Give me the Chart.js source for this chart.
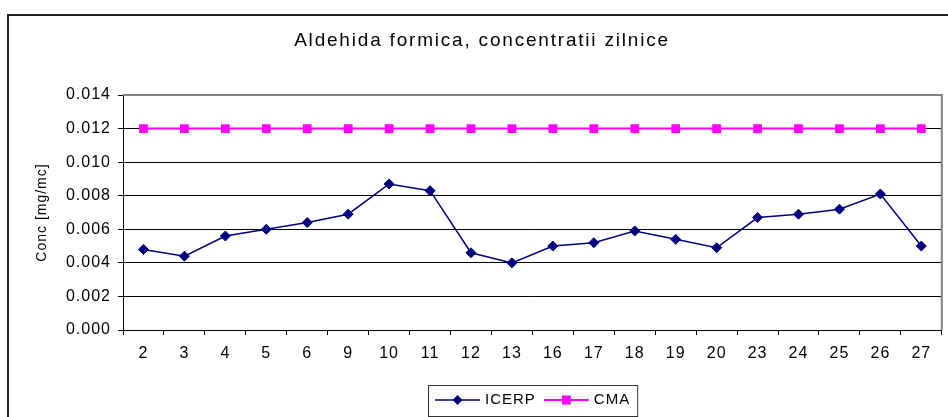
<!DOCTYPE html>
<html>
<head>
<meta charset="utf-8">
<title>Aldehida formica</title>
<script src="https://cdn.jsdelivr.net/npm/chart.js"></script>
<style>
  body { margin: 0; background: #fff; }
  #grafic { display: block; }
</style>
</head>
<body>
<canvas id="grafic" width="948" height="417"></canvas>
<script>
// datele graficului
const zile = ["2", "3", "4", "5", "6", "9", "10", "11", "12", "13", "16", "17", "18", "19", "20", "23", "24", "25", "26", "27"]
const icerp = [0.0048, 0.0044, 0.0056, 0.0060, 0.0064, 0.0069, 0.0087, 0.0083, 0.0046, 0.0040,
               0.0050, 0.0052, 0.0059, 0.0054, 0.0049, 0.0067, 0.0069, 0.0072, 0.0081, 0.0050]
const cma = [0.012, 0.012, 0.012, 0.012, 0.012, 0.012, 0.012, 0.012, 0.012, 0.012,
             0.012, 0.012, 0.012, 0.012, 0.012, 0.012, 0.012, 0.012, 0.012, 0.012]
const yMin = 0
const yMax = 0.014
const yPas = 0.002

const titlu = "Aldehida formica, concentratii zilnice"
const titluY = "Conc [mg/mc]"
const fontFam = "'Liberation Sans', Arial, sans-serif"

// desen: fundal, chenar, titlu, legenda
const decor = {
    id: "decor",
    beforeDraw(chart) {
        const ctx = chart.ctx
        ctx.save()
        ctx.fillStyle = "#fff"
        ctx.fillRect(0, 0, chart.width, chart.height)
        ctx.strokeStyle = "#222"
        ctx.lineWidth = 2
        ctx.beginPath()
        ctx.moveTo(8, chart.height + 2)
        ctx.lineTo(8, 15)
        ctx.lineTo(chart.width + 2, 15)
        ctx.stroke()

        ctx.letterSpacing = "1.8px"
        ctx.fillStyle = "#000"
        ctx.font = "19px " + fontFam
        ctx.textAlign = "center"
        ctx.textBaseline = "middle"
        ctx.fillText(titlu, 482, 41)
        ctx.restore()
        // spatiere pentru etichetele axelor
        ctx.letterSpacing = "1px"
    },
    beforeDatasetsDraw(chart) {
        const ctx = chart.ctx
        const a = chart.chartArea
        ctx.save()
        ctx.strokeStyle = "#808080"
        ctx.lineWidth = 2
        ctx.beginPath()
        ctx.moveTo(a.left, a.top)
        ctx.lineTo(a.right, a.top)
        ctx.lineTo(a.right, a.bottom)
        ctx.stroke()
        ctx.restore()
    },
    afterDraw(chart) {
        const ctx = chart.ctx
        const a = chart.chartArea
        ctx.save()
        ctx.letterSpacing = "1px"
        ctx.font = "15px " + fontFam
        ctx.textBaseline = "middle"
        ctx.textAlign = "left"
        const seturi = chart.data.datasets
        const latimi = seturi.map(d => ctx.measureText(d.label).width)
        let total = 14
        latimi.forEach((w, i) => { total += 50 + w + (i > 0 ? 8 : 0) })
        const x0 = Math.round((a.left + a.right) / 2 - total / 2)
        const y0 = 385
        const yc = 400
        ctx.strokeStyle = "#333"
        ctx.lineWidth = 1
        ctx.strokeRect(x0 + 0.5, y0 + 0.5, total, 31)
        let x = x0 + 7
        seturi.forEach((d, i) => {
            ctx.strokeStyle = d.borderColor
            ctx.lineWidth = d.borderWidth
            ctx.beginPath()
            ctx.moveTo(x, yc)
            ctx.lineTo(x + 45, yc)
            ctx.stroke()
            ctx.fillStyle = d.pointBackgroundColor
            const cx = x + 22.5
            if (d.pointStyle === "rectRot") {
                ctx.beginPath()
                ctx.moveTo(cx, yc - 5)
                ctx.lineTo(cx + 5, yc)
                ctx.lineTo(cx, yc + 5)
                ctx.lineTo(cx - 5, yc)
                ctx.closePath()
                ctx.fill()
            } else {
                ctx.fillRect(cx - 4.5, yc - 4.5, 9, 9)
            }
            ctx.fillStyle = "#000"
            ctx.fillText(d.label, x + 50, yc)
            x += 50 + latimi[i] + 8
        })
        ctx.restore()
    }
}

const ctx = document.getElementById("grafic").getContext("2d")

const grafic = new Chart(ctx, {
    type: "line",
    data: {
        labels: zile,
        datasets: [{
            label: "ICERP",
            data: icerp,
            borderColor: "#000080",
            borderWidth: 1.5,
            pointStyle: "rectRot",
            pointRadius: 5,
            pointBackgroundColor: "#000080",
            pointBorderColor: "#000080",
            pointBorderWidth: 1,
            tension: 0
        }, {
            label: "CMA",
            data: cma,
            borderColor: "#ff00ff",
            borderWidth: 2,
            pointStyle: "rect",
            pointRadius: 6.2,
            pointBackgroundColor: "#ff00ff",
            pointBorderColor: "#ff00ff",
            pointBorderWidth: 0,
            tension: 0
        }]
    },
    options: {
        responsive: false,
        animation: false,
        events: [],
        layout: { padding: { left: 4, right: 6, top: 95, bottom: 52 } },
        plugins: {
            legend: { display: false },
            title: { display: false },
            tooltip: { enabled: false }
        },
        scales: {
            x: {
                offset: true,
                grid: { offset: true, drawOnChartArea: false, tickLength: 5, tickColor: "#000" },
                border: { color: "#000", width: 1 },
                ticks: {
                    color: "#000",
                    font: { family: fontFam, size: 16 },
                    padding: 9,
                    maxRotation: 0,
                    autoSkip: false
                },
                afterFit: s => { s.height = 35 }
            },
            y: {
                min: yMin,
                max: yMax,
                grid: { color: "#000", tickLength: 5, tickColor: "#000" },
                border: { color: "#000", width: 1 },
                ticks: {
                    stepSize: yPas,
                    color: "#000",
                    font: { family: fontFam, size: 16 },
                    padding: 7,
                    callback: v => v.toFixed(3)
                },
                title: {
                    display: true,
                    text: titluY,
                    color: "#000",
                    font: { family: fontFam, size: 14 },
                    padding: 30
                },
                afterFit: s => { s.width = 119 }
            }
        }
    },
    plugins: [decor]
})
</script>
</body>
</html>
